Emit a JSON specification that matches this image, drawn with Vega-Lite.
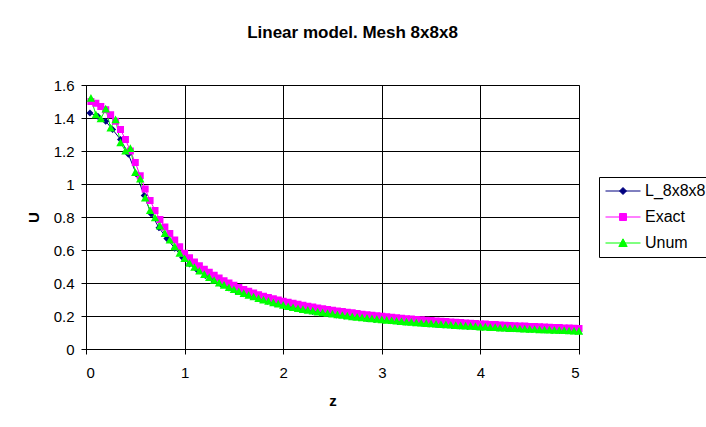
{
  "$schema": "https://vega.github.io/schema/vega-lite/v6.json",
  "autosize": {"type": "none"},
  "width": 493,
  "height": 264,
  "padding": {"left": 86, "top": 85, "right": 127, "bottom": 78},
  "background": "white",
  "title": {
    "text": "Linear model. Mesh 8x8x8",
    "font": "Liberation Sans",
    "fontSize": 17,
    "fontWeight": "bold",
    "color": "black",
    "anchor": "middle",
    "dx": 20,
    "offset": 36
  },
  "datasets": {
    "pts": [
      {"s":"L_8x8x8","z":0.04,"u":1.43},{"s":"L_8x8x8","z":0.12,"u":1.41},{"s":"L_8x8x8","z":0.2,"u":1.38},{"s":"L_8x8x8","z":0.27,"u":1.33},{"s":"L_8x8x8","z":0.35,"u":1.27},{"s":"L_8x8x8","z":0.43,"u":1.18},{"s":"L_8x8x8","z":0.51,"u":1.06},{"s":"L_8x8x8","z":0.59,"u":0.93},{"s":"L_8x8x8","z":0.66,"u":0.82},{"s":"L_8x8x8","z":0.74,"u":0.735},{"s":"L_8x8x8","z":0.82,"u":0.67},{"s":"L_8x8x8","z":0.9,"u":0.61},{"s":"L_8x8x8","z":0.98,"u":0.555},{"s":"L_8x8x8","z":1.05,"u":0.515},{"s":"L_8x8x8","z":1.13,"u":0.478},{"s":"L_8x8x8","z":1.21,"u":0.445},{"s":"L_8x8x8","z":1.29,"u":0.416},{"s":"L_8x8x8","z":1.37,"u":0.392},{"s":"L_8x8x8","z":1.45,"u":0.37},{"s":"L_8x8x8","z":1.52,"u":0.353},{"s":"L_8x8x8","z":1.6,"u":0.335},{"s":"L_8x8x8","z":1.68,"u":0.32},{"s":"L_8x8x8","z":1.76,"u":0.303},{"s":"L_8x8x8","z":1.84,"u":0.289},{"s":"L_8x8x8","z":1.91,"u":0.278},{"s":"L_8x8x8","z":1.99,"u":0.266},{"s":"L_8x8x8","z":2.07,"u":0.254},{"s":"L_8x8x8","z":2.15,"u":0.244},{"s":"L_8x8x8","z":2.23,"u":0.236},{"s":"L_8x8x8","z":2.3,"u":0.228},{"s":"L_8x8x8","z":2.38,"u":0.22},{"s":"L_8x8x8","z":2.46,"u":0.213},{"s":"L_8x8x8","z":2.54,"u":0.206},{"s":"L_8x8x8","z":2.62,"u":0.2},{"s":"L_8x8x8","z":2.7,"u":0.194},{"s":"L_8x8x8","z":2.77,"u":0.189},{"s":"L_8x8x8","z":2.85,"u":0.184},{"s":"L_8x8x8","z":2.93,"u":0.179},{"s":"L_8x8x8","z":3.01,"u":0.175},{"s":"L_8x8x8","z":3.09,"u":0.171},{"s":"L_8x8x8","z":3.16,"u":0.167},{"s":"L_8x8x8","z":3.24,"u":0.163},{"s":"L_8x8x8","z":3.32,"u":0.159},{"s":"L_8x8x8","z":3.4,"u":0.156},{"s":"L_8x8x8","z":3.48,"u":0.152},{"s":"L_8x8x8","z":3.55,"u":0.149},{"s":"L_8x8x8","z":3.63,"u":0.146},{"s":"L_8x8x8","z":3.71,"u":0.143},{"s":"L_8x8x8","z":3.79,"u":0.14},{"s":"L_8x8x8","z":3.87,"u":0.137},{"s":"L_8x8x8","z":3.95,"u":0.135},{"s":"L_8x8x8","z":4.02,"u":0.132},{"s":"L_8x8x8","z":4.1,"u":0.13},{"s":"L_8x8x8","z":4.18,"u":0.127},{"s":"L_8x8x8","z":4.26,"u":0.125},{"s":"L_8x8x8","z":4.34,"u":0.123},{"s":"L_8x8x8","z":4.41,"u":0.121},{"s":"L_8x8x8","z":4.49,"u":0.119},{"s":"L_8x8x8","z":4.57,"u":0.117},{"s":"L_8x8x8","z":4.65,"u":0.115},{"s":"L_8x8x8","z":4.73,"u":0.113},{"s":"L_8x8x8","z":4.8,"u":0.112},{"s":"L_8x8x8","z":4.88,"u":0.11},{"s":"L_8x8x8","z":4.96,"u":0.108},
      {"s":"Exact","z":0.05,"u":1.5},{"s":"Exact","z":0.1,"u":1.49},{"s":"Exact","z":0.15,"u":1.47},{"s":"Exact","z":0.2,"u":1.45},{"s":"Exact","z":0.25,"u":1.42},{"s":"Exact","z":0.3,"u":1.38},{"s":"Exact","z":0.35,"u":1.33},{"s":"Exact","z":0.4,"u":1.27},{"s":"Exact","z":0.45,"u":1.2},{"s":"Exact","z":0.5,"u":1.13},{"s":"Exact","z":0.55,"u":1.05},{"s":"Exact","z":0.6,"u":0.97},{"s":"Exact","z":0.65,"u":0.9},{"s":"Exact","z":0.7,"u":0.84},{"s":"Exact","z":0.75,"u":0.785},{"s":"Exact","z":0.8,"u":0.74},{"s":"Exact","z":0.85,"u":0.7},{"s":"Exact","z":0.9,"u":0.66},{"s":"Exact","z":0.95,"u":0.62},{"s":"Exact","z":1.0,"u":0.58},
      {"s":"Exact","z":1.05,"u":0.553},{"s":"Exact","z":1.1,"u":0.528},{"s":"Exact","z":1.15,"u":0.505},{"s":"Exact","z":1.2,"u":0.484},{"s":"Exact","z":1.25,"u":0.465},{"s":"Exact","z":1.3,"u":0.447},{"s":"Exact","z":1.35,"u":0.43},{"s":"Exact","z":1.4,"u":0.414},{"s":"Exact","z":1.45,"u":0.4},{"s":"Exact","z":1.5,"u":0.386},{"s":"Exact","z":1.55,"u":0.373},{"s":"Exact","z":1.6,"u":0.361},{"s":"Exact","z":1.65,"u":0.35},{"s":"Exact","z":1.7,"u":0.339},{"s":"Exact","z":1.75,"u":0.329},{"s":"Exact","z":1.8,"u":0.32},{"s":"Exact","z":1.85,"u":0.312},{"s":"Exact","z":1.9,"u":0.304},{"s":"Exact","z":1.95,"u":0.297},{"s":"Exact","z":2.0,"u":0.29},
      {"s":"Exact","z":2.05,"u":0.283},{"s":"Exact","z":2.1,"u":0.277},{"s":"Exact","z":2.15,"u":0.271},{"s":"Exact","z":2.2,"u":0.265},{"s":"Exact","z":2.25,"u":0.259},{"s":"Exact","z":2.3,"u":0.254},{"s":"Exact","z":2.35,"u":0.249},{"s":"Exact","z":2.4,"u":0.244},{"s":"Exact","z":2.45,"u":0.239},{"s":"Exact","z":2.5,"u":0.235},{"s":"Exact","z":2.55,"u":0.231},{"s":"Exact","z":2.6,"u":0.227},{"s":"Exact","z":2.65,"u":0.223},{"s":"Exact","z":2.7,"u":0.219},{"s":"Exact","z":2.75,"u":0.215},{"s":"Exact","z":2.8,"u":0.211},{"s":"Exact","z":2.85,"u":0.208},{"s":"Exact","z":2.9,"u":0.205},{"s":"Exact","z":2.95,"u":0.201},{"s":"Exact","z":3.0,"u":0.198},
      {"s":"Exact","z":3.05,"u":0.195},{"s":"Exact","z":3.1,"u":0.192},{"s":"Exact","z":3.15,"u":0.19},{"s":"Exact","z":3.2,"u":0.187},{"s":"Exact","z":3.25,"u":0.184},{"s":"Exact","z":3.3,"u":0.182},{"s":"Exact","z":3.35,"u":0.179},{"s":"Exact","z":3.4,"u":0.177},{"s":"Exact","z":3.45,"u":0.174},{"s":"Exact","z":3.5,"u":0.172},{"s":"Exact","z":3.55,"u":0.17},{"s":"Exact","z":3.6,"u":0.168},{"s":"Exact","z":3.65,"u":0.166},{"s":"Exact","z":3.7,"u":0.164},{"s":"Exact","z":3.75,"u":0.162},{"s":"Exact","z":3.8,"u":0.16},{"s":"Exact","z":3.85,"u":0.158},{"s":"Exact","z":3.9,"u":0.156},{"s":"Exact","z":3.95,"u":0.154},{"s":"Exact","z":4.0,"u":0.152},
      {"s":"Exact","z":4.05,"u":0.151},{"s":"Exact","z":4.1,"u":0.149},{"s":"Exact","z":4.15,"u":0.148},{"s":"Exact","z":4.2,"u":0.146},{"s":"Exact","z":4.25,"u":0.144},{"s":"Exact","z":4.3,"u":0.143},{"s":"Exact","z":4.35,"u":0.141},{"s":"Exact","z":4.4,"u":0.14},{"s":"Exact","z":4.45,"u":0.139},{"s":"Exact","z":4.5,"u":0.137},{"s":"Exact","z":4.55,"u":0.136},{"s":"Exact","z":4.6,"u":0.135},{"s":"Exact","z":4.65,"u":0.133},{"s":"Exact","z":4.7,"u":0.132},{"s":"Exact","z":4.75,"u":0.131},{"s":"Exact","z":4.8,"u":0.13},{"s":"Exact","z":4.85,"u":0.128},{"s":"Exact","z":4.9,"u":0.127},{"s":"Exact","z":4.95,"u":0.126},{"s":"Exact","z":5.0,"u":0.125},
      {"s":"Unum","z":0.05,"u":1.52},{"s":"Unum","z":0.1,"u":1.42},{"s":"Unum","z":0.15,"u":1.395},{"s":"Unum","z":0.2,"u":1.455},{"s":"Unum","z":0.25,"u":1.34},{"s":"Unum","z":0.3,"u":1.39},{"s":"Unum","z":0.35,"u":1.25},{"s":"Unum","z":0.4,"u":1.2},{"s":"Unum","z":0.45,"u":1.215},{"s":"Unum","z":0.5,"u":1.07},{"s":"Unum","z":0.55,"u":1.03},{"s":"Unum","z":0.6,"u":0.915},{"s":"Unum","z":0.65,"u":0.84},{"s":"Unum","z":0.7,"u":0.795},{"s":"Unum","z":0.75,"u":0.745},{"s":"Unum","z":0.8,"u":0.7},{"s":"Unum","z":0.85,"u":0.66},{"s":"Unum","z":0.9,"u":0.62},{"s":"Unum","z":0.95,"u":0.58},{"s":"Unum","z":1.0,"u":0.548},
      {"s":"Unum","z":1.05,"u":0.52},{"s":"Unum","z":1.1,"u":0.495},{"s":"Unum","z":1.15,"u":0.472},{"s":"Unum","z":1.2,"u":0.452},{"s":"Unum","z":1.25,"u":0.433},{"s":"Unum","z":1.3,"u":0.416},{"s":"Unum","z":1.35,"u":0.4},{"s":"Unum","z":1.4,"u":0.386},{"s":"Unum","z":1.45,"u":0.372},{"s":"Unum","z":1.5,"u":0.36},{"s":"Unum","z":1.55,"u":0.348},{"s":"Unum","z":1.6,"u":0.337},{"s":"Unum","z":1.65,"u":0.326},{"s":"Unum","z":1.7,"u":0.316},{"s":"Unum","z":1.75,"u":0.306},{"s":"Unum","z":1.8,"u":0.297},{"s":"Unum","z":1.85,"u":0.289},{"s":"Unum","z":1.9,"u":0.281},{"s":"Unum","z":1.95,"u":0.273},{"s":"Unum","z":2.0,"u":0.265},
      {"s":"Unum","z":2.05,"u":0.257},{"s":"Unum","z":2.1,"u":0.251},{"s":"Unum","z":2.15,"u":0.245},{"s":"Unum","z":2.2,"u":0.24},{"s":"Unum","z":2.25,"u":0.235},{"s":"Unum","z":2.3,"u":0.23},{"s":"Unum","z":2.35,"u":0.225},{"s":"Unum","z":2.4,"u":0.22},{"s":"Unum","z":2.45,"u":0.216},{"s":"Unum","z":2.5,"u":0.212},{"s":"Unum","z":2.55,"u":0.208},{"s":"Unum","z":2.6,"u":0.204},{"s":"Unum","z":2.65,"u":0.2},{"s":"Unum","z":2.7,"u":0.196},{"s":"Unum","z":2.75,"u":0.193},{"s":"Unum","z":2.8,"u":0.19},{"s":"Unum","z":2.85,"u":0.186},{"s":"Unum","z":2.9,"u":0.183},{"s":"Unum","z":2.95,"u":0.18},{"s":"Unum","z":3.0,"u":0.177},
      {"s":"Unum","z":3.05,"u":0.175},{"s":"Unum","z":3.1,"u":0.172},{"s":"Unum","z":3.15,"u":0.169},{"s":"Unum","z":3.2,"u":0.167},{"s":"Unum","z":3.25,"u":0.164},{"s":"Unum","z":3.3,"u":0.162},{"s":"Unum","z":3.35,"u":0.159},{"s":"Unum","z":3.4,"u":0.157},{"s":"Unum","z":3.45,"u":0.155},{"s":"Unum","z":3.5,"u":0.153},{"s":"Unum","z":3.55,"u":0.151},{"s":"Unum","z":3.6,"u":0.149},{"s":"Unum","z":3.65,"u":0.147},{"s":"Unum","z":3.7,"u":0.145},{"s":"Unum","z":3.75,"u":0.143},{"s":"Unum","z":3.8,"u":0.141},{"s":"Unum","z":3.85,"u":0.139},{"s":"Unum","z":3.9,"u":0.138},{"s":"Unum","z":3.95,"u":0.136},{"s":"Unum","z":4.0,"u":0.134},
      {"s":"Unum","z":4.05,"u":0.133},{"s":"Unum","z":4.1,"u":0.131},{"s":"Unum","z":4.15,"u":0.13},{"s":"Unum","z":4.2,"u":0.128},{"s":"Unum","z":4.25,"u":0.127},{"s":"Unum","z":4.3,"u":0.125},{"s":"Unum","z":4.35,"u":0.124},{"s":"Unum","z":4.4,"u":0.122},{"s":"Unum","z":4.45,"u":0.121},{"s":"Unum","z":4.5,"u":0.12},{"s":"Unum","z":4.55,"u":0.119},{"s":"Unum","z":4.6,"u":0.117},{"s":"Unum","z":4.65,"u":0.116},{"s":"Unum","z":4.7,"u":0.115},{"s":"Unum","z":4.75,"u":0.114},{"s":"Unum","z":4.8,"u":0.113},{"s":"Unum","z":4.85,"u":0.112},{"s":"Unum","z":4.9,"u":0.11},{"s":"Unum","z":4.95,"u":0.109},{"s":"Unum","z":5.0,"u":0.108}
    ]
  },
  "data": {"name": "pts"},
  "encoding": {
    "x": {
      "field": "z", "type": "quantitative",
      "scale": {"domain": [0, 5], "nice": false},
      "axis": {
        "values": [0, 1, 2, 3, 4, 5], "format": "d",
        "title": "z", "titlePadding": 13,
        "labelPadding": 11
      }
    },
    "y": {
      "field": "u", "type": "quantitative",
      "scale": {"domain": [0, 1.6], "nice": false},
      "axis": {
        "values": [0, 0.2, 0.4, 0.6, 0.8, 1, 1.2, 1.4, 1.6], "format": "~g",
        "title": "U", "titlePadding": 12,
        "labelPadding": 7
      }
    }
  },
  "layer": [
    {
      "mark": {"type": "line", "strokeWidth": 1},
      "encoding": {
        "stroke": {
          "field": "s", "type": "nominal",
          "scale": {"domain": ["L_8x8x8", "Exact", "Unum"], "range": ["#000080", "#FF00FF", "#00FF00"]}
        }
      }
    },
    {
      "mark": {"type": "point", "filled": true, "opacity": 1, "size": 196, "strokeWidth": 0},
      "encoding": {
        "fill": {
          "field": "s", "type": "nominal",
          "scale": {"domain": ["L_8x8x8", "Exact", "Unum"], "range": ["#000080", "#FF00FF", "#00FF00"]},
          "legend": {
            "title": null,
            "orient": "none",
            "legendX": 513,
            "legendY": 92,
            "padding": 6,
            "strokeColor": "black",
            "fillColor": "white",
            "labelFont": "Liberation Sans",
            "labelFontSize": 16,
            "labelColor": "black",
            "rowPadding": 10,
            "symbolSize": 196,
            "symbolOffset": 10,
            "labelOffset": 14,
            "symbolStrokeWidth": 1,
            "symbolOpacity": 1
          }
        },
        "stroke": {"field": "s", "type": "nominal"},
        "shape": {
          "field": "s", "type": "nominal",
          "scale": {
            "domain": ["L_8x8x8", "Exact", "Unum"],
            "range": [
              "M-2.5,0H2.5M0,-0.5L0.5,0L0,0.5L-0.5,0Z",
              "M-2.5,0H2.5M-0.5,-0.5H0.5V0.5H-0.5Z",
              "M-2.5,0H2.5M0,-0.6L0.6,0.5H-0.6Z"
            ]
          }
        }
      }
    }
  ],
  "config": {
    "font": "Liberation Sans",
    "view": {"stroke": "#808080", "strokeWidth": 1},
    "axis": {
      "labelFont": "Liberation Sans",
      "labelFontSize": 15,
      "labelColor": "black",
      "titleFont": "Liberation Sans",
      "titleFontSize": 15,
      "titleFontWeight": "bold",
      "titleColor": "black",
      "domainColor": "black",
      "tickColor": "black",
      "tickSize": 5,
      "gridColor": "black",
      "gridOpacity": 1,
      "gridWidth": 1
    },
    "axisY": {"titleAngle": -90}
  }
}
